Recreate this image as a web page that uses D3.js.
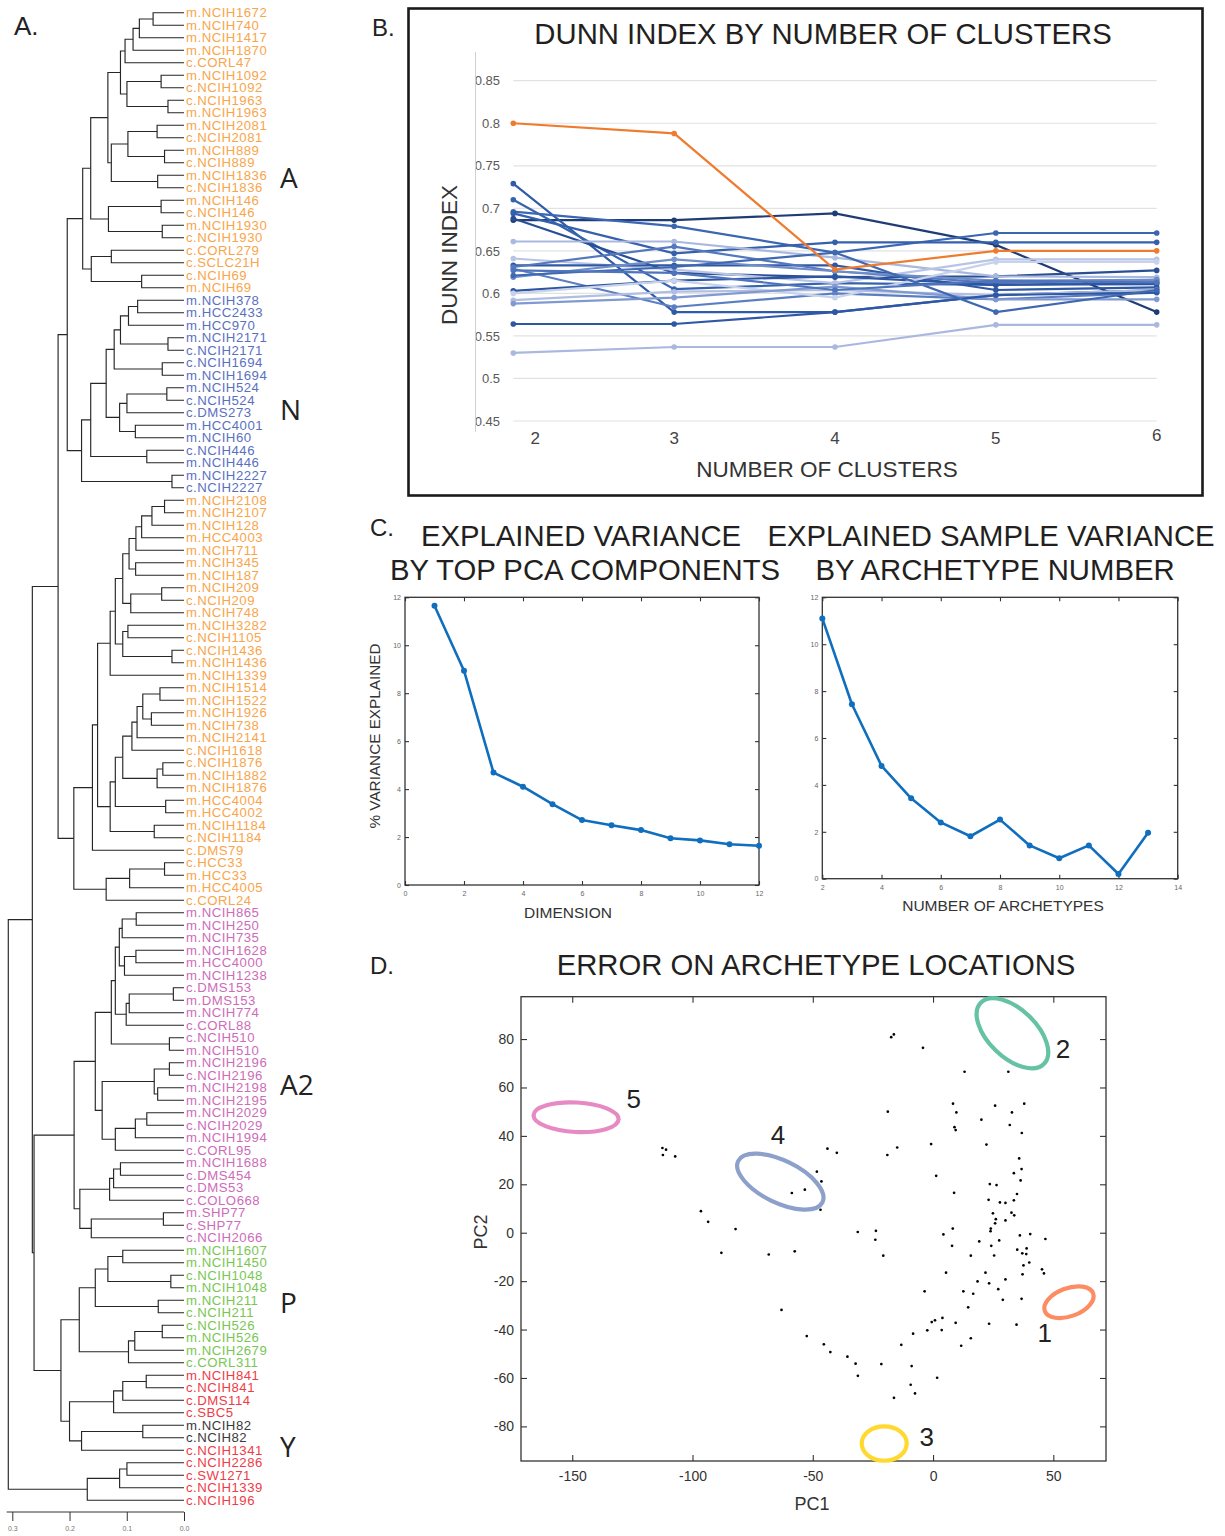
<!DOCTYPE html>
<html><head><meta charset="utf-8">
<script src="https://cdn.jsdelivr.net/npm/d3@7"></script>
<style>body{margin:0;background:#fff}svg{display:block}</style>
</head><body>
<svg id="c" width="1225" height="1536"></svg>
<script>
// ---------------- DATA ----------------
// Panel A: dendrogram (Newick, internal node label = merge height)
const dendroA = "((((((m.NCIH1672,m.NCIH740)0.054,m.NCIH1417)0.078,m.NCIH1870)0.089,c.CORL47)0.103,((m.NCIH1092,c.NCIH1092)0.040,(c.NCIH1963,m.NCIH1963)0.028)0.0997)0.111,(((m.NCIH2081,c.NCIH2081)0.047,(m.NCIH889,c.NCIH889)0.034)0.098,(m.NCIH1836,c.NCIH1836)0.046)0.127)0.133";
const dendroA2 = "((m.NCIH146,c.NCIH146)0.040,(m.NCIH1930,c.NCIH1930)0.038)0.132";
const dendroA3 = "((c.CORL279,c.SCLC21H)0.127,(c.NCIH69,m.NCIH69)0.074)0.162";
const dendroN = "(((((((m.NCIH378,m.HCC2433)0.081,m.HCC970)0.097,(m.NCIH2171,c.NCIH2171)0.028)0.111,(c.NCIH1694,m.NCIH1694)0.038)0.122,(((m.NCIH524,c.NCIH524)0.030,c.DMS273)0.0997,(m.HCC4001,m.NCIH60)0.085)0.1125)0.136,(c.NCIH446,m.NCIH446)0.065)0.163,(m.NCIH2227,c.NCIH2227)0.021)0.179";
const dendroO1 = "((((((((m.NCIH2108,m.NCIH2107)0.034,m.NCIH128)0.056,m.HCC4003)0.074,m.NCIH711)0.084,(m.NCIH345,m.NCIH187)0.0845)0.096,((m.NCIH209,c.NCIH209)0.039,m.NCIH748)0.093)0.107,((m.NCIH3282,c.NCIH1105)0.098,(c.NCIH1436,m.NCIH1436)0.021)0.107)0.120,m.NCIH1339)0.129";
const dendroO2 = "(((((((m.NCIH1514,m.NCIH1522)0.042,(m.NCIH1926,m.NCIH738)0.057)0.072,m.NCIH2141)0.082,c.NCIH1618)0.091,((c.NCIH1876,m.NCIH1882)0.037,m.NCIH1876)0.047)0.107,(m.HCC4004,m.HCC4002)0.032)0.120,(m.NCIH1184,c.NCIH1184)0.052)0.129";
const dendroO3 = "(((c.HCC33,m.HCC33)0.034,m.HCC4005)0.095,c.CORL24)0.136";
const dendroPink1 = "((((((m.NCIH865,m.NCIH250)0.0835,m.NCIH735)0.108,((m.NCIH1628,m.HCC4000)0.084,m.NCIH1238)0.104)0.113,(((c.DMS153,m.DMS153)0.0186,m.NCIH774)0.0957,c.CORL88)0.101)0.120,(c.NCIH510,m.NCIH510)0.0255)0.127,(((m.NCIH2196,c.NCIH2196)0.0255,(m.NCIH2198,m.NCIH2195)0.046)0.052,(((m.NCIH2029,c.NCIH2029)0.065,m.NCIH1994)0.085,c.CORL95)0.120)0.143)0.155";
const dendroPink2 = "((((m.NCIH1688,c.DMS454)0.111,c.DMS53)0.123,c.COLO668)0.130,((m.SHP77,c.SHP77)0.036,c.NCIH2066)0.162)0.182";
const dendroP = "((((m.NCIH1607,m.NCIH1450)0.107,(c.NCIH1048,m.NCIH1048)0.023)0.133,(m.NCIH211,c.NCIH211)0.045)0.155,(((c.NCIH526,m.NCIH526)0.038,m.NCIH2679)0.086,c.CORL311)0.097)0.183";
const dendroY1 = "((((m.NCIH841,c.NCIH841)0.066,c.DMS114)0.107,c.SBC5)0.123,((m.NCIH82,c.NCIH82)0.072,c.NCIH1341)0.179)0.200";
const dendroY2 = "(((c.NCIH2286,c.SW1271)0.0997,c.NCIH1339)0.1125,c.NCIH196)0.169";
const dendrogramNewick =
  "((((((" + dendroA + "," + dendroA2 + ")0.163," + dendroA3 + ")0.177," + dendroN + ")0.204," +
  "(((" + dendroO1 + "," + dendroO2 + ")0.151,c.DMS79)0.160," + dendroO3 + ")0.1925)0.220," +
  "((" + dendroPink1 + "," + dendroPink2 + ")0.192,(" + dendroP + "," + dendroY1 + ")0.215)0.262)0.265," +
  dendroY2 + ")0.307";
const leafClassRuns = [["A",23],["N",16],["A",33],["A2",27],["P",10],["Y",4],["X",2],["Y",5]];
const dendroTicks = [0.3, 0.2, 0.1, 0.0];
const groupLabels = ["A","N","A2","P","Y"];

// Panel B: Dunn index
const clusterCounts = [2,3,4,5,6];
const dunnTicks = [0.45,0.5,0.55,0.6,0.65,0.7,0.75,0.8,0.85];
const dunnHighlight = [0.800,0.788,0.628,0.650,0.650];
const dunnSeries = [
 [0.686,0.686,0.694,0.657,0.578],
 [0.729,0.578,0.578,0.598,0.604],
 [0.710,0.605,0.612,0.610,0.613],
 [0.696,0.679,0.648,0.671,0.671],
 [0.694,0.647,0.660,0.660,0.660],
 [0.688,0.624,0.619,0.620,0.627],
 [0.661,0.661,0.642,0.620,0.619],
 [0.641,0.628,0.612,0.640,0.640],
 [0.633,0.633,0.633,0.604,0.607],
 [0.631,0.655,0.626,0.612,0.616],
 [0.629,0.584,0.600,0.593,0.601],
 [0.619,0.640,0.626,0.615,0.616],
 [0.603,0.615,0.620,0.610,0.611],
 [0.600,0.615,0.595,0.637,0.637],
 [0.592,0.602,0.604,0.598,0.604],
 [0.588,0.595,0.608,0.593,0.593],
 [0.564,0.564,0.578,0.598,0.601],
 [0.530,0.537,0.537,0.563,0.563],
 [0.621,0.631,0.648,0.578,0.604],
 [0.627,0.624,0.604,0.615,0.613]
];

// Panel C
const pcaDims = [1,2,3,4,5,6,7,8,9,10,11,12];
const pcaVariance = [11.65,8.94,4.69,4.10,3.37,2.71,2.49,2.29,1.95,1.86,1.70,1.64];
const archetypeNumbers = [2,3,4,5,6,7,8,9,10,11,12,13];
const archetypeVariance = [11.10,7.44,4.81,3.43,2.40,1.81,2.52,1.42,0.87,1.42,0.20,1.96];

// Panel D
const pc1 = [-112.5,-111.0,-112.3,-107.2,-96.5,-93.5,-82.1,-88.0,-68.3,-57.5,-63.0,-52.5,-45.4,-42.7,-43.9,-40.0,-48.3,-46.4,-58.7,-53.3,-46.8,
 -17.4,-16.3,-4.2,13.1,31.3,-18.8,8.3,9.7,25.8,37.9,32.8,20.1,8.9,9.4,31.9,36.9,-19.0,-14.9,-0.8,22.2,35.8,36.8,33.6,36.4,1.3,23.6,26.4,34.9,8.75,
 23.1,27.8,30.1,33.6,24.9,32.6,33.75,26.1,30.1,25.8,24.0,23.9,-31.3,-23.75,-24.0,-20.7,4.3,8.2,7.9,19.2,24.2,27.5,25.4,15.7,36.1,40.4,46.7,35.0,
 37.1,38.9,38.75,40.0,37.6,37.2,45.3,46.1,5.4,21.8,18.5,23.3,30.1,27.1,-3.5,12.6,16.7,29.0,36.8,14.6,23.3,34.7,-0.55,0.8,3.9,3.6,-2.4,9.4,-8.3,
 15.7,11.7,-13.2,-35.6,-32.2,-31.25,-21.5,-8.9,1.7,-9.3,-7.5,-16.25];
const pc2 = [35.0,34.3,32.1,31.5,8.9,4.5,1.5,-8.3,-9.0,-7.7,-31.9,-42.7,-46.1,-49.3,34.7,33.0,25.2,21.2,16.4,17.8,9.5,
 80.8,81.9,76.4,66.5,66.5,50.0,53.3,49.7,52.5,53.3,49.7,46.7,43.6,42.4,44.5,41.2,32.1,35.2,36.6,36.4,30.7,26.3,24.6,21.6,23.5,20.1,19.7,16.0,16.5,
 13.6,12.5,12.3,13.4,8.0,8.3,7.2,5.6,5.1,3.9,1.7,0.6,0.3,0.8,-2.9,-9.5,-0.7,1.7,-5.4,-3.6,-5.4,-3.2,-9.4,-9.5,-1.1,-0.55,-2.6,-7.0,
 -8.5,-6.5,-8.8,-12.3,-13.5,-17.2,-15.1,-16.8,-16.5,-16.5,-20.1,-20.9,-19.3,-23.3,-24.2,-24.2,-25.2,-27.7,-27.3,-30.8,-37.6,-38.0,-36.9,-36.2,-35.2,-40.2,-40.3,-37.2,-41.7,
 -43.6,-46.7,-46.3,-51.2,-54.1,-59.1,-54.25,-55.1,-59.9,-62.8,-66.4,-68.2];
const archetypeIds = ["1","2","3","4","5"];
const archetypeCx = [56.5, 33.0, -20.3, -63.5, -148.4];
const archetypeCy = [-28.7, 82.4, -87.1, 21.1, 47.7];
const archetypeRx = [10.7, 18.3, 9.35, 19.5, 17.7];
const archetypeRy = [5.8, 9.9, 7.1, 8.7, 6.1];
const archetypeAngle = [-20, 44, 0, 26, 3];
const archetypeLabelX = [46.4, 54.0, -2.6, -64.5, -124.4];
const archetypeLabelY = [-41.4, 75.9, -84.4, 40.4, 55.2];
const pcXTicks = [-150,-100,-50,0,50];
const pcYTicks = [-80,-60,-40,-20,0,20,40,60,80];

// ---------------- STYLE ----------------
const FONT = "'Liberation Sans', Arial, Helvetica, sans-serif";
const leafColors = {A:"#F9A54B", N:"#5A70BF", A2:"#CD6CB9", P:"#79C653", Y:"#EE3C47", X:"#3a3a3a"};
const dunnColors = ['#1F3D74','#2F5BA8','#3763AE','#3A66B2','#3460AC','#2A4E93','#A9B8DF','#B8C4E6','#2F58A2','#5477BD',
  '#5B7EC2','#6F8DC9','#2D55A0','#C8D2EC','#B0BEE1','#8099D0','#2E57A4','#AAB8DF','#4068B1','#4E74BB'];
const archetypeColors = ["#FC8D62","#66C2A5","#FFD92F","#8DA0CB","#E78AC3"];
const matlabBlue = "#0F6EBE";
const TITLE_FS = 29.3;

const svg = d3.select("#c").style("font-family", FONT);

// ---------------- PANEL A ----------------
function parseNewick(s){
  let i = 0;
  function node(){
    if (s[i] === "("){
      i++;
      const kids = [node()];
      while (s[i] === ","){ i++; kids.push(node()); }
      i++;
      const j = i;
      while (i < s.length && /[0-9.]/.test(s[i])) i++;
      return {children: kids, h: +s.slice(j, i)};
    }
    const j = i;
    while (i < s.length && !/[,()]/.test(s[i])) i++;
    return {name: s.slice(j, i), h: 0};
  }
  return node();
}
(function(){
  const g = svg.append("g");
  const root = d3.hierarchy(parseNewick(dendrogramNewick));
  const leaves = root.leaves();
  const yLeaf = d3.scaleLinear().domain([0, leaves.length - 1]).range([12.7, 1500.2]);
  const xH = d3.scaleLinear().domain([0, 0.3]).range([184, 12.3]);
  leaves.forEach((d, i) => d.py = yLeaf(i));
  root.eachAfter(d => { if (d.children) d.py = d3.mean(d.children, c => c.py); });
  const cls = [];
  leafClassRuns.forEach(([c, n]) => { for (let k = 0; k < n; k++) cls.push(c); });

  const links = root.descendants().filter(d => d.children);
  g.selectAll("path.link").data(links).join("path")
    .attr("fill", "none").attr("stroke", "#262626").attr("stroke-width", 1.15)
    .attr("d", d => {
      const a = d.children[0], b = d.children[d.children.length - 1];
      return `M${xH(a.data.h)},${a.py}H${xH(d.data.h)}V${b.py}H${xH(b.data.h)}`;
    });
  g.selectAll("text.leaf").data(leaves).join("text")
    .attr("x", 186).attr("y", d => d.py).attr("dy", "0.36em")
    .attr("font-size", 13.2).attr("letter-spacing", 0.5)
    .attr("fill", (d, i) => leafColors[cls[i]] || "#333")
    .text(d => d.data.name);

  // axis
  const ax = g.append("g").attr("transform", "translate(0,1512)")
    .call(d3.axisBottom(xH).tickValues(dendroTicks).tickFormat(d3.format(".1f")).tickSize(9).tickSizeOuter(0));
  ax.select(".domain").attr("d", `M6.7,0H${xH(0)}`).attr("stroke", "#333");
  ax.selectAll(".tick line").attr("stroke", "#333");
  ax.selectAll("text").attr("font-size", 7).attr("fill", "#777").attr("y", 14);

  // group labels
  const glY = [188, 420, 1095, 1313, 1457];
  const glX = [280, 280, 280, 280, 280];
  g.selectAll("text.grp").data(groupLabels).join("text")
    .attr("x", (d, i) => glX[i]).attr("y", (d, i) => glY[i])
    .attr("font-family", "'Open Sans', sans-serif").attr("font-size", 28).attr("fill", "#222")
    .text(d => d);
  g.append("text").attr("x", 14).attr("y", 35).attr("font-size", 26).attr("fill", "#222").text("A.");
})();

// ---------------- PANEL B ----------------
(function(){
  const g = svg.append("g");
  g.append("rect").attr("x", 408.5).attr("y", 8.5).attr("width", 794).attr("height", 487)
    .attr("fill", "none").attr("stroke", "#1a1a1a").attr("stroke-width", 2.6);
  g.append("text").attr("x", 372).attr("y", 36).attr("font-size", 24).attr("fill", "#222").text("B.");
  g.append("text").attr("x", 823).attr("y", 44).attr("text-anchor", "middle").attr("font-size", TITLE_FS)
    .attr("fill", "#231f20").text("DUNN INDEX BY NUMBER OF CLUSTERS");
  const x = d3.scaleLinear().domain([2, 6]).range([513.3, 1156.7]);
  const y = d3.scaleLinear().domain([0.45, 0.85]).range([421, 80.7]);
  g.selectAll("line.grid").data(dunnTicks).join("line")
    .attr("x1", 513.3).attr("x2", 1156.7).attr("y1", d => y(d)).attr("y2", d => y(d))
    .attr("stroke", "#e2e2e2").attr("stroke-width", 1.2);
  g.selectAll("text.yt").data(dunnTicks).join("text")
    .attr("x", 500).attr("y", d => y(d)).attr("dy", "0.36em").attr("text-anchor", "end")
    .attr("font-size", 13).attr("fill", "#595959").text(d => d);
  g.append("line").attr("x1", 475.5).attr("x2", 475.5).attr("y1", 52).attr("y2", 432)
    .attr("stroke", "#d0d0d0").attr("stroke-width", 1);
  g.selectAll("text.xt").data(clusterCounts).join("text")
    .attr("x", (d, i) => x(d) + (i === 0 ? 22 : 0)).attr("y", (d, i) => i === 4 ? 441 : 444)
    .attr("text-anchor", "middle").attr("font-size", 17).attr("fill", "#444").text(d => d);
  g.append("text").attr("x", 827).attr("y", 477).attr("text-anchor", "middle").attr("font-size", 22.5)
    .attr("fill", "#333").text("NUMBER OF CLUSTERS");
  g.append("text").attr("transform", "translate(457,255) rotate(-90)").attr("text-anchor", "middle")
    .attr("font-size", 22.5).attr("fill", "#333").text("DUNN INDEX");
  const line = d3.line().x((d, i) => x(clusterCounts[i])).y(d => y(d));
  const all = dunnSeries.map((s, k) => ({s, c: dunnColors[k]})).concat([{s: dunnHighlight, c: "#EF7B2F"}]);
  const sg = g.selectAll("g.ser").data(all).join("g");
  sg.append("path").attr("d", d => line(d.s)).attr("fill", "none").attr("stroke", d => d.c).attr("stroke-width", 2.2);
  sg.selectAll("circle").data(d => d.s.map(v => ({v, c: d.c}))).join("circle")
    .attr("cx", (d, i) => x(clusterCounts[i])).attr("cy", d => y(d.v)).attr("r", 2.8).attr("fill", d => d.c);
})();

// ---------------- PANEL C ----------------
function boxAxes(g, x, y, xt, yt, fs, tick, padX, padY, labelColor){
  const [x0, x1] = x.range(), [y0, y1] = y.range();
  const fmt = d => String(d);
  const b = g.append("g").attr("transform", `translate(0,${y0})`)
    .call(d3.axisBottom(x).tickValues(xt).tickFormat(fmt).tickSize(-tick).tickSizeOuter(0).tickPadding(padX));
  const t = g.append("g").attr("transform", `translate(0,${y1})`)
    .call(d3.axisTop(x).tickValues(xt).tickSize(-tick).tickSizeOuter(0).tickFormat(""));
  const l = g.append("g").attr("transform", `translate(${x0},0)`)
    .call(d3.axisLeft(y).tickValues(yt).tickFormat(fmt).tickSize(-tick).tickSizeOuter(0).tickPadding(padY));
  const r = g.append("g").attr("transform", `translate(${x1},0)`)
    .call(d3.axisRight(y).tickValues(yt).tickSize(-tick).tickSizeOuter(0).tickFormat(""));
  [b, t, l, r].forEach(a => {
    a.select(".domain").remove();
    a.selectAll(".tick line").attr("stroke", "#333").attr("stroke-width", 1.1);
    a.selectAll("text").attr("font-size", fs).attr("fill", labelColor).attr("font-family", FONT);
  });
  g.append("rect").attr("x", x0).attr("y", y1).attr("width", x1 - x0).attr("height", y0 - y1)
    .attr("fill", "none").attr("stroke", "#333").attr("stroke-width", 1.3);
}
function seriesPlot(g, x, y, xs, ys){
  const line = d3.line().x((d, i) => x(xs[i])).y(d => y(d));
  g.append("path").attr("d", line(ys)).attr("fill", "none").attr("stroke", matlabBlue).attr("stroke-width", 2.6)
    .attr("stroke-linejoin", "round");
  g.selectAll("circle.pt").data(ys).join("circle").attr("cx", (d, i) => x(xs[i])).attr("cy", d => y(d))
    .attr("r", 3).attr("fill", matlabBlue);
}
(function(){
  const g = svg.append("g");
  g.append("text").attr("x", 370).attr("y", 536).attr("font-size", 24).attr("fill", "#222").text("C.");
  const titles = [["EXPLAINED VARIANCE", 581, 546], ["BY TOP PCA COMPONENTS", 585, 580],
                  ["EXPLAINED SAMPLE VARIANCE", 991, 546], ["BY ARCHETYPE NUMBER", 995, 580]];
  g.selectAll("text.tt").data(titles).join("text").attr("x", d => d[1]).attr("y", d => d[2])
    .attr("text-anchor", "middle").attr("font-size", TITLE_FS).attr("fill", "#231f20").text(d => d[0]);

  const xL = d3.scaleLinear().domain([0, 12]).range([405, 759]);
  const yL = d3.scaleLinear().domain([0, 12]).range([885, 597.3]);
  const gl = g.append("g");
  boxAxes(gl, xL, yL, d3.range(0, 13, 2), d3.range(0, 13, 2), 7, 4, 6, 4, "#666");
  seriesPlot(gl, xL, yL, pcaDims, pcaVariance);
  gl.append("text").attr("x", 568).attr("y", 918).attr("text-anchor", "middle").attr("font-size", 15.5)
    .attr("fill", "#333").text("DIMENSION");
  gl.append("text").attr("transform", "translate(380,736) rotate(-90)").attr("text-anchor", "middle")
    .attr("font-size", 15.3).attr("fill", "#333").text("% VARIANCE EXPLAINED");

  const xR = d3.scaleLinear().domain([2, 14]).range([822.3, 1177.7]);
  const yR = d3.scaleLinear().domain([0, 12]).range([878.7, 597.3]);
  const gr = g.append("g");
  boxAxes(gr, xR, yR, d3.range(2, 15, 2), d3.range(0, 13, 2), 7, 4, 6, 4, "#666");
  seriesPlot(gr, xR, yR, archetypeNumbers, archetypeVariance);
  gr.append("text").attr("x", 1003).attr("y", 911).attr("text-anchor", "middle").attr("font-size", 15.5)
    .attr("fill", "#333").text("NUMBER OF ARCHETYPES");
})();

// ---------------- PANEL D ----------------
(function(){
  const g = svg.append("g");
  g.append("text").attr("x", 370).attr("y", 974).attr("font-size", 24).attr("fill", "#222").text("D.");
  g.append("text").attr("x", 816).attr("y", 975).attr("text-anchor", "middle").attr("font-size", TITLE_FS)
    .attr("fill", "#231f20").text("ERROR ON ARCHETYPE LOCATIONS");
  const x = d3.scaleLinear().domain([-171.3, 71.9]).range([521, 1106]);
  const y = d3.scaleLinear().domain([-94.3, 97.5]).range([1461, 996.7]);
  boxAxes(g, x, y, pcXTicks, pcYTicks, 14, 6, 10, 7, "#333");
  g.append("text").attr("x", 812).attr("y", 1510).attr("text-anchor", "middle").attr("font-size", 18)
    .attr("fill", "#333").text("PC1");
  g.append("text").attr("transform", "translate(487,1232) rotate(-90)").attr("text-anchor", "middle")
    .attr("font-size", 18).attr("fill", "#333").text("PC2");
  g.selectAll("circle.dot").data(pc1).join("circle")
    .attr("cx", d => x(d)).attr("cy", (d, i) => y(pc2[i])).attr("r", 1.35).attr("fill", "#000");
  const sx = x(1) - x(0), sy = y(0) - y(1);
  g.selectAll("ellipse").data(archetypeIds).join("ellipse")
    .attr("cx", (d, i) => x(archetypeCx[i])).attr("cy", (d, i) => y(archetypeCy[i]))
    .attr("rx", (d, i) => archetypeRx[i] * sx).attr("ry", (d, i) => archetypeRy[i] * sy)
    .attr("transform", (d, i) => `rotate(${archetypeAngle[i]},${x(archetypeCx[i])},${y(archetypeCy[i])})`)
    .attr("fill", "none").attr("stroke", (d, i) => archetypeColors[i]).attr("stroke-width", 4.2);
  g.selectAll("text.al").data(archetypeIds).join("text")
    .attr("x", (d, i) => x(archetypeLabelX[i])).attr("y", (d, i) => y(archetypeLabelY[i])).attr("dy", "0.36em")
    .attr("text-anchor", "middle").attr("font-size", 26).attr("fill", "#222").text(d => d);
})();
</script>
</body></html>
